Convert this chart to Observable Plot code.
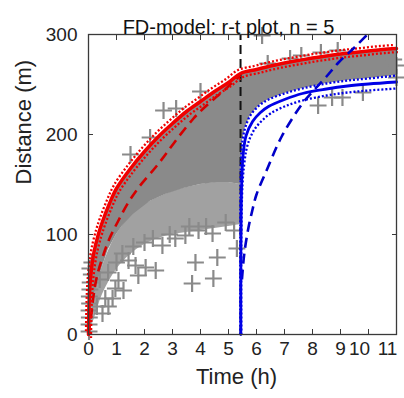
<!DOCTYPE html>
<html><head><meta charset="utf-8">
<script src="https://cdn.jsdelivr.net/npm/d3@7"></script>
<script src="https://cdn.jsdelivr.net/npm/@observablehq/plot@0.6"></script>
<style>body{margin:0;background:#fff;} svg{display:block;}</style>
</head><body><div id="chart"></div>
<script>
const title = "FD-model: r-t plot, n = 5";
const xLabel = "Time (h)";
const yLabel = "Distance (m)";
const xTicks = [0,1,2,3,4,5,6,7,8,9,10,11];
const yTicks = [0,100,200,300];

// red model (before release), solid
const redT = [0,0.02,0.05,0.1,0.2,0.36,0.5,0.75,1.0,1.5,2.0,2.5,3.0,3.5,4.0,4.5,5.0,5.43,6,6.5,7,7.5,8,8.5,9,9.5,10,10.5,11];
const redD = [0,30,48,64,83,101,113,131,146,166,183,198,211,223,233,243,252,261,265,268.5,271.5,274,276.5,278.5,280.5,282,283.5,285,286];
// red dashed
const redDashT = [0,0.1,0.18,0.3,0.5,0.75,1.07,1.4,1.79,2.39,2.75,3.2,3.75,4.1,4.5,4.8,5.1,5.43];
const redDashD = [0,20,39,58,77,96,114,131,147,167,180,197,216,226,236,243,251,259];

// blue model (after release)
const blueT = [5.44,5.44,5.45,5.48,5.53,5.63,5.86,6.14,6.43,7,7.64,8.5,9.25,10,11];
const blueD = [0,60,120,160,182,199,213,222,228,235,241,245.5,248.5,250.5,252.5];
const blueUpT = [5.42,5.42,5.43,5.45,5.5,5.6,5.78,6.1,6.43,7,7.64,8.5,9.25,10,11];
const blueUpD = [0,100,150,176,194,207,219,229,235,241,246,251,254,256,259];
const blueLoT = [5.46,5.46,5.5,5.56,5.64,5.76,5.95,6.2,6.5,7,7.64,8.5,9.25,10,11];
const blueLoD = [0,100,150,170,185,196,206,214,221,228,234,239,242,244,246];
const blueDashT = [5.48,5.56,5.7,5.85,6.0,6.39,6.9,7.64,8.04,8.5,8.93,9.5,9.96];
const blueDashD = [55,80,105,124,140,166,198,231,244,258,272,287,300];

const releaseT = 5.43;

// observed cloud: dense envelope
const cloudT    = [0,0.1,0.2,0.36,0.5,0.71,1.0,1.2,1.6,2.2,2.75,3.4,4.0,4.6,5.0,5.43,5.5,5.6,5.78,6.1,6.43,7,7.64,8.5,9.25,10,11];
const cloudHigh = [0,62,81,99,111,127,144,152,168,189,204,222,232,243,250,259,261,262,263,265,267,270,274,278,281,283,285];
const cloudLow  = [0,25,38,55,68,85,100,108,120,133,140,146,150,152,152,150,194,207,219,229,235,241,246,251,254,256,259];
// sparser zone under the dense part
const sparseT    = [0,0.2,0.5,1,1.5,2,2.5,3,3.5,4,4.5,5,5.43];
const sparseHigh = [0,38,68,100,118,130,137,143,147,150,152,152,150];
const sparseLow  = [0,15,40,65,80,90,96,100,102,104,106,108,110];
// single observations
const obsT = [0.02,0.02,0.03,0.02,0.04,0.03,0.05,0.06,0.1,0.05,0.12,
  0.3,0.5,0.6,0.71,0.86,0.96,1.07,1.25,1.21,1.43,1.68,1.78,2.04,2.4,2.64,3.1,3.46,3.7,3.82,3.93,4.43,4.46,4.6,5.3,0.4,0.7,1.0,2.0,2.9,4.2,4.9,5.2,1.6,2.3,3.6,
  1.5,2.2,2.68,3.13,4.0,6.2,6.4,7.2,7.6,8.3,8.9,10.9,11,11,
  8.2,8.7,9.07,9.8];
const obsD = [3,10,17,24,31,38,45,52,60,66,72,
  28,21,36,28,36,46,54,44,81,74,69,59,67,64,89,96,99,51,72,104,101,56,77,86,55,62,72,92,100,108,112,104,88,96,108,
  180,197,224,226,243,299,271,276,279,282,284,275,269,257,
  229,237,237,242];

const pts = (T, D) => T.map((t, i) => ({t, d: D[i]}));
const band = (T, H, L) => T.map((t, i) => ({t, hi: H[i], lo: L[i]}));

const gray = "#8a8a8a";
const red = "#f00000";
const blue = "#0000e6";
const axisColor = "#3a3a3a";
const font = "Liberation Sans, Arial, sans-serif";
const dotted = {strokeDasharray: "2,2", strokeLinecap: "butt", strokeWidth: 2.3, curve: "catmull-rom"};
const dashed = {strokeDasharray: "10,6", strokeLinecap: "butt", strokeWidth: 2.6, curve: "catmull-rom"};

const chart = Plot.plot({
  width: 404, height: 398,
  marginLeft: 88, marginRight: 8, marginTop: 34, marginBottom: 64,
  style: {fontFamily: font, background: "#fff"},
  x: {domain: [0, 11]},
  y: {domain: [0, 300]},
  marks: [
    Plot.areaY(band(sparseT, sparseHigh, sparseLow), {x: "t", y1: "lo", y2: "hi", fill: gray, fillOpacity: 0.8, curve: "catmull-rom"}),
    Plot.areaY(band(cloudT, cloudHigh, cloudLow), {x: "t", y1: "lo", y2: "hi", fill: gray, curve: "linear"}),
    Plot.dot(pts(obsT, obsD), {x: "t", y: "d", symbol: "plus", r: 5.5, stroke: gray, strokeWidth: 2.2}),
    Plot.ruleX([releaseT], {y1: 0, y2: 300, stroke: "#111", strokeWidth: 2, strokeDasharray: "9,5"}),
    Plot.line(pts(redDashT, redDashD), {x: "t", y: "d", stroke: "#d40000", ...dashed}),
    Plot.line(pts(redT, redD), {x: "t", y: "d", stroke: red, ...dotted, dx: -2.5, dy: -3.5}),
    Plot.line(pts(redT, redD), {x: "t", y: "d", stroke: red, ...dotted, dx: 2.5, dy: 3.5}),
    Plot.line(pts(redT, redD), {x: "t", y: "d", stroke: red, strokeWidth: 3.5, curve: "catmull-rom"}),
    Plot.line(pts(blueDashT, blueDashD), {x: "t", y: "d", stroke: "#0000c8", ...dashed}),
    Plot.line(pts(blueUpT, blueUpD), {x: "t", y: "d", stroke: blue, ...dotted}),
    Plot.line(pts(blueLoT, blueLoD), {x: "t", y: "d", stroke: blue, ...dotted}),
    Plot.line(pts(blueT, blueD), {x: "t", y: "d", stroke: blue, strokeWidth: 2.8, curve: "catmull-rom"}),
    Plot.frame({stroke: axisColor, strokeWidth: 1.3}),
    // inward ticks on all four sides
    Plot.axisX(xTicks, {anchor: "bottom", tickSize: -5, text: null, label: null, stroke: axisColor}),
    Plot.axisX(xTicks, {anchor: "top", tickSize: -5, text: null, label: null, stroke: axisColor}),
    Plot.axisY(yTicks, {anchor: "left", tickSize: -5, text: null, label: null, stroke: axisColor}),
    Plot.axisY(yTicks, {anchor: "right", tickSize: -5, text: null, label: null, stroke: axisColor}),
    // tick labels
    Plot.axisX(xTicks.slice(0, 10), {anchor: "bottom", tickSize: 0, tickPadding: 7, fontSize: 19, label: null, fill: "#222"}),
    Plot.axisX(xTicks.slice(10), {anchor: "bottom", tickSize: 0, tickPadding: 7, fontSize: 19, label: null, fill: "#222", dx: -9}),
    Plot.axisY(yTicks, {anchor: "left", tickSize: 0, tickPadding: 11, fontSize: 19, label: null, fill: "#222"}),
    // titles
    Plot.text([title], {frameAnchor: "top", dy: -15, dx: -14, fontSize: 20, fill: "#111"}),
    Plot.text([xLabel], {frameAnchor: "bottom", dy: 49, dx: -6, fontSize: 22, fill: "#222"}),
    Plot.text([yLabel], {frameAnchor: "left", dx: -65, rotate: -90, fontSize: 22, fill: "#222"})
  ]
});
document.getElementById("chart").appendChild(chart);
</script>
</body></html>
